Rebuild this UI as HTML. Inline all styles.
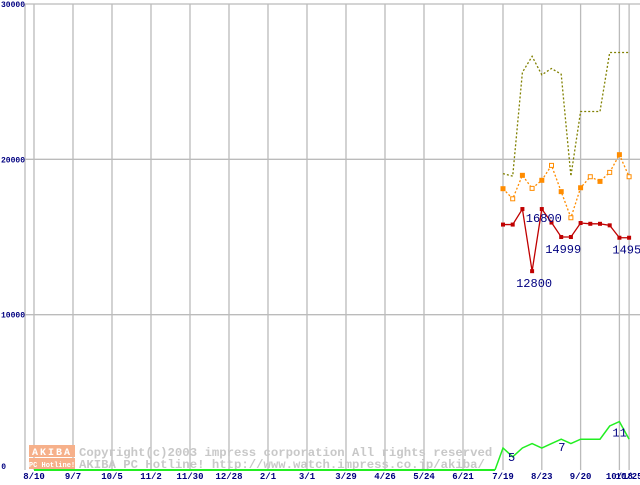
<!DOCTYPE html>
<html><head><meta charset="utf-8"><style>
body{margin:0;background:#fff;width:640px;height:480px;overflow:hidden}
svg text{font-family:"Liberation Mono",monospace}
</style></head><body>
<svg id="c" width="640" height="480" xmlns="http://www.w3.org/2000/svg"></svg>
<script>
const yTicks=[0,10000,20000,30000];
const xLabels=["8/10","9/7","10/5","11/2","11/30","12/28","2/1","3/1","3/29","4/26","5/24","6/21","7/19","8/23","9/20","10/18","10/25"];
const xLabelWeeks=[0,4,8,12,16,20,24,28,32,36,40,44,49,53,57,61,62];
const weeks=[48,49,50,51,52,53,54,55,56,57,58,59,60,61,62];
const redVals=[null,15800,15800,16800,12800,16800,15930,14999,14999,15900,15850,15850,15750,14953,14953];
const orangeVals=[null,18110,17460,18970,18130,18650,19610,17920,16240,18170,18880,18580,19160,20300,18880];
const oliveVals=[null,19080,18920,25600,26630,25440,25850,25480,18920,23080,23080,23080,26880,26880,26880];
const greenVals=[0,5,3,5,6,5,6,7,6,7,7,7,10,11,7];
const redLabels=[[5,"16800",-16,13],[4,"12800",-16,16],[7,"14999",-16,16],[13,"14953",-7,16]];
const greenLabels=[[1,"5",5,13],[7,"7",-3,12],[13,"11",-7,15]];
const NS="http://www.w3.org/2000/svg",svg=document.getElementById('c');
function X(w){if(w<=44)return 34+w*9.75;if(w<=49)return 463+(w-44)*8;return 503+(w-49)*9.7;}
const Y=v=>470-v*466/30000;
const YG=v=>470-v*4.4;
function mk(t,a,p){const e=document.createElementNS(NS,t);for(const k in a)e.setAttribute(k,a[k]);(p||svg).appendChild(e);return e;}
for(let i=0;i<xLabelWeeks.length;i++){const x=X(xLabelWeeks[i]);
 const g=mk('line',{x1:x,x2:x,y1:4,y2:470,stroke:'#bbb','stroke-width':1.3});
 
 const t=mk('text',{x:x,y:479,'text-anchor':'middle','font-size':9,'font-weight':'bold',fill:'#000080'});t.textContent=xLabels[i];
 }
mk('line',{x1:25,x2:25,y1:4,y2:470,stroke:'#bbb','stroke-width':1.3});
for(const v of yTicks){const y=Y(v);
 if(v>0){const g=mk('line',{x1:25,x2:640,y1:y,y2:y,stroke:'#bbb','stroke-width':1.3});
 }
 const t=mk('text',{x:v?25:6,y:v?y+3:y-1,'text-anchor':'end','font-size':8,'font-weight':'bold',fill:'#000080'});t.textContent=v;
 }
const wm=mk('g',{});
mk('rect',{x:29,y:445,width:46,height:12,fill:'#f6b08a'},wm);
mk('rect',{x:29,y:458,width:46,height:11,fill:'#f6b08a'},wm);
let t=mk('text',{x:52,y:455,'text-anchor':'middle','font-size':10,'font-weight':'bold',fill:'#fff','letter-spacing':2},wm);t.textContent='AKIBA';
t=mk('text',{x:52,y:467,'text-anchor':'middle','font-size':7,'font-weight':'bold',fill:'#fff'},wm);t.textContent='PC Hotline!';
t=mk('text',{x:79,y:456,'font-size':12.3,'font-weight':'bold',fill:'#c8c8c8'},wm);t.textContent='Copyright(c)2003 impress corporation All rights reserved';
t=mk('text',{x:79,y:468,'font-size':12.3,'font-weight':'bold',fill:'#c8c8c8'},wm);t.textContent='AKIBA PC Hotline!  http://www.watch.impress.co.jp/akiba/';
function series(vals,yf,color,dash,name,w){
 const pts=[];vals.forEach((v,i)=>{if(v!==null)pts.push([X(weeks[i]),yf(v)]);});
 const p=mk('polyline',{points:pts.map(p=>p.join(',')).join(' '),fill:'none',stroke:color,'stroke-width':w||1.3,'stroke-dasharray':dash||''});
 return pts;}
const gb=mk('line',{x1:34,x2:X(48),y1:470,y2:470,stroke:'#22ee22','stroke-width':2});

series(greenVals,YG,'#22ee22','','count-line',1.5);
for(const [i,s,dx,dy] of greenLabels){const t=mk('text',{x:X(weeks[i])+dx,y:YG(greenVals[i])+dy,'font-family':'Liberation Sans','font-size':12,fill:'#000080'});t.textContent=s;
 }
series(oliveVals,Y,'#808000','2,2','max-price-line');
const op=series(orangeVals,Y,'#ff8c00','2,2','avg-price-line');
op.forEach((p,k)=>{const r=mk('rect',{x:p[0]-2,y:p[1]-2,width:4,height:4,fill:k%2?'#fff':'#ff8c00',stroke:'#ff8c00','stroke-width':1});});
const rp=series(redVals,Y,'#c00000','','min-price-line');
rp.forEach(p=>{const r=mk('rect',{x:p[0]-2,y:p[1]-2,width:4,height:4,fill:'#c00000'});});
for(const [i,s,dx,dy] of redLabels){const x=X(weeks[i]),y=Y(redVals[i]);
 const t=mk('text',{x:x+dx,y:y+dy,'font-family':'Liberation Sans','font-size':12,fill:'#000080'});t.textContent=s;
 }
</script>
</body></html>
